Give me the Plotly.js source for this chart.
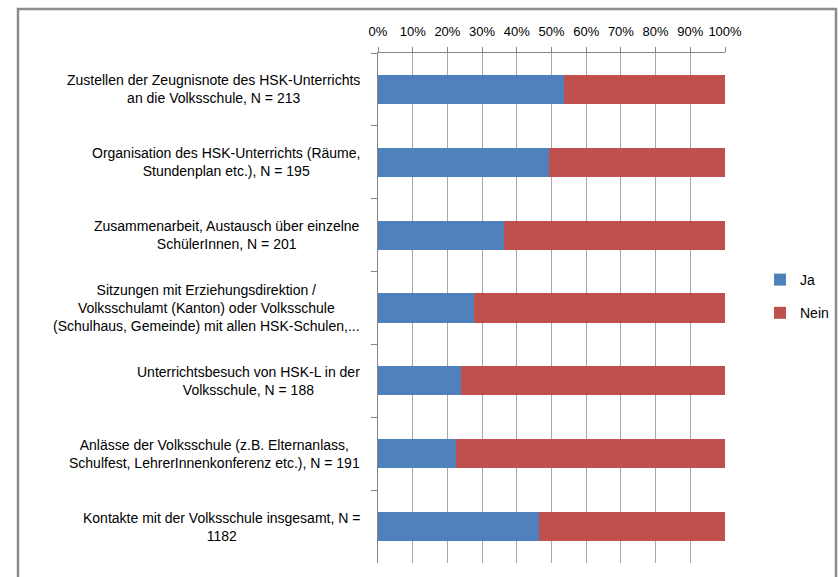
<!DOCTYPE html>
<html>
<head>
<meta charset="utf-8">
<script src="https://cdn.plot.ly/plotly-3.0.1.min.js"></script>
<style>html,body{margin:0;padding:0;background:#fff;}#chart{width:838px;height:577px;}</style>
</head>
<body>
<div id="chart"></div>
<script>
const categories = [
  "Zustellen der Zeugnisnote des HSK-Unterrichts<br>an die Volksschule, N = 213",
  "Organisation des HSK-Unterrichts (Räume,<br>Stundenplan etc.), N = 195",
  "Zusammenarbeit, Austausch über einzelne<br>SchülerInnen, N = 201",
  "Sitzungen mit Erziehungsdirektion /<br>Volksschulamt (Kanton) oder Volksschule<br>(Schulhaus, Gemeinde) mit allen HSK-Schulen,...",
  "Unterrichtsbesuch von HSK-L in der<br>Volksschule, N = 188",
  "Anlässe der Volksschule (z.B. Elternanlass,<br>Schulfest, LehrerInnenkonferenz etc.), N = 191",
  "Kontakte mit der Volksschule insgesamt, N =<br>1182"
];
const jaValues = [0.536, 0.493, 0.363, 0.278, 0.240, 0.225, 0.464];
const neinValues = [0.464, 0.507, 0.637, 0.722, 0.760, 0.775, 0.536];
const xTickVals = [0, 0.1, 0.2, 0.3, 0.4, 0.5, 0.6, 0.7, 0.8, 0.9, 1.0];
const xTickText = ["0%", "10%", "20%", "30%", "40%", "50%", "60%", "70%", "80%", "90%", "100%"];
const ids = categories.map((c, i) => "c" + i);

const FONT = "Liberation Sans, Arial, sans-serif";
const W = 838, H = 577;
const L = 378, R = 725, T = 53, B = 563;
const px2x = p => (p - L) / (R - L);
const px2y = p => (H - p - (H - B)) / (B - T);

const traces = [
  {type: 'bar', orientation: 'h', name: 'Ja', y: ids, x: jaValues,
   marker: {color: '#4F81BD'}, legendgroup: 'a', hoverinfo: 'x+name'},
  {type: 'bar', orientation: 'h', name: 'Nein', y: ids, x: neinValues,
   marker: {color: '#C0504D'}, legendgroup: 'b', hoverinfo: 'x+name'}
];

const annotations = categories.map((c, i) => ({
  xref: 'paper', yref: 'y', x: px2x(362), y: ids[i], xanchor: 'right', yanchor: 'middle',
  text: c, showarrow: false, align: 'center',
  font: {family: FONT, size: 14, color: '#000'}
}));

const layout = {
  width: W, height: H,
  margin: {l: L, r: W - R, t: T, b: H - B, pad: 0, autoexpand: false},
  paper_bgcolor: '#fff', plot_bgcolor: '#fff',
  barmode: 'stack', bargap: 0.6,
  font: {family: FONT, size: 14, color: '#000'},
  xaxis: {
    side: 'top', range: [0, 1], tickvals: xTickVals, ticktext: xTickText,
    tickangle: 0, ticklabelstandoff: 6,
    showgrid: true, gridcolor: '#a6a6a6', gridwidth: 1,
    showline: true, linecolor: '#868686', linewidth: 1,
    ticks: 'outside', ticklen: 5, tickcolor: '#868686',
    zeroline: false, fixedrange: true, automargin: false,
    tickfont: {family: FONT, size: 13, color: '#000'}
  },
  yaxis: {
    type: 'category', autorange: 'reversed',
    showticklabels: false, showgrid: false, zeroline: false,
    showline: true, linecolor: '#868686', linewidth: 1,
    ticks: 'outside', tickson: 'boundaries', ticklen: 6, tickcolor: '#868686',
    fixedrange: true, automargin: false
  },
  legend: {
    x: px2x(760), y: px2y(264), xanchor: 'left', yanchor: 'top',
    traceorder: 'grouped', tracegroupgap: 12,
    font: {family: FONT, size: 14, color: '#000'},
    bgcolor: 'rgba(0,0,0,0)', itemwidth: 30
  },
  annotations: annotations,
  shapes: [
    {type: 'rect', xref: 'paper', yref: 'paper',
     x0: px2x(18), x1: px2x(836), y0: px2y(600), y1: px2y(9),
     line: {color: '#8c8c8c', width: 2.5}, fillcolor: 'rgba(0,0,0,0)', layer: 'below'}
  ],
  showlegend: true
};

Plotly.newPlot('chart', traces, layout, {displayModeBar: false, staticPlot: true});
</script>
</body>
</html>
